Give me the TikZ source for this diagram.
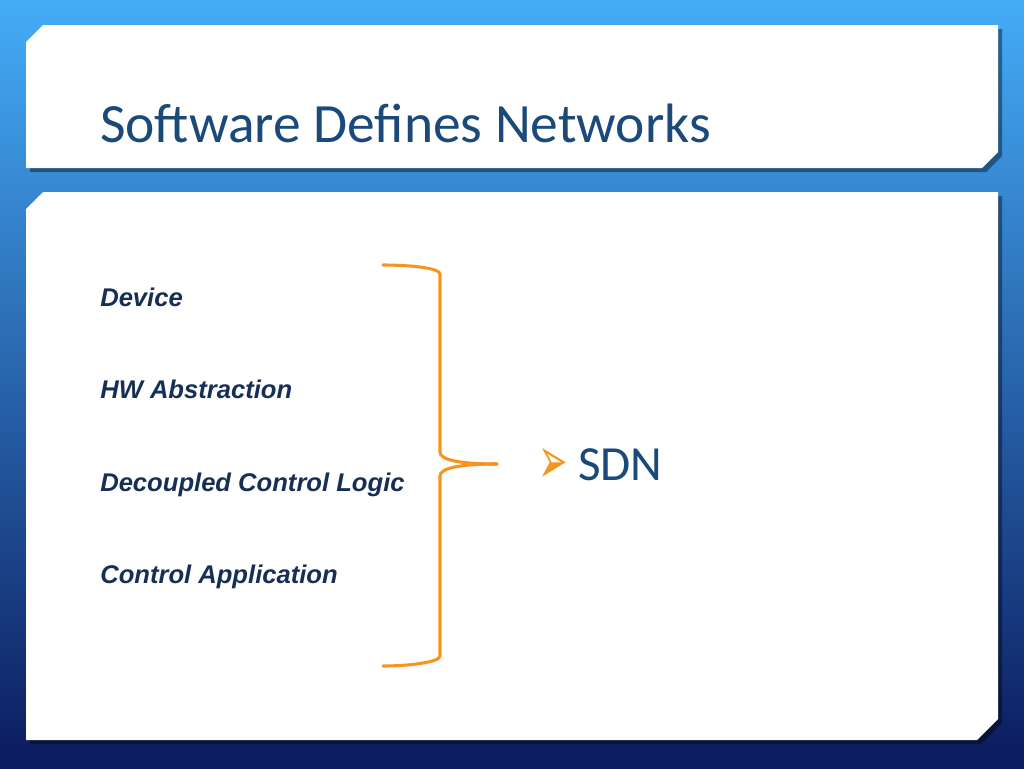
\documentclass[tikz,border=0pt]{standalone}
\usepackage{fontspec}
\setmainfont{Liberation Sans}
\newfontfamily\titlefont{Carlito}
\newfontfamily\symfont{DejaVu Sans}
\definecolor{titleblue}{HTML}{1B4A7A}
\definecolor{itemblue}{HTML}{172F55}
\definecolor{braceorange}{HTML}{F7941D}
\definecolor{bgtop}{HTML}{45ACF7}
\definecolor{bgmid}{HTML}{2A78D2}
\definecolor{bgbot}{HTML}{0B1B5E}
\tikzset{
  panel/.style={fill=white},
  shadowpanel/.style={fill=black, fill opacity=0.4},
  item/.style={anchor=base west, inner sep=0pt, text=itemblue, font=\fontsize{19.2}{22}\selectfont\bfseries\itshape},
  bracestroke/.style={draw=braceorange, line width=2.3pt, line cap=round, line join=round},
}
\begin{document}
\begin{tikzpicture}[x=0.75pt, y=-0.75pt]
  \useasboundingbox (0,0) rectangle (1024,768);
  \shade[top color=bgtop, middle color=bgmid, bottom color=bgbot] (0,0) rectangle (1024,768);
  % shadows
  \fill[shadowpanel] (30,46) -- (47,29) -- (1002,29) -- (1002,156) -- (986,172) -- (30,172) -- cycle;
  \fill[shadowpanel] (30,213) -- (47,196) -- (1002,196) -- (1002,723) -- (981,744) -- (30,744) -- cycle;
  % panels
  \fill[panel] (26,42) -- (43,25) -- (998,25) -- (998,152) -- (982,168) -- (26,168) -- cycle;
  \fill[panel] (26,209) -- (43,192) -- (998,192) -- (998,719) -- (977,740) -- (26,740) -- cycle;
  % title
  \node[anchor=base west, inner sep=0pt, text=titleblue, font=\titlefont\fontsize{41.6}{50}\selectfont] (title) at (100,142) {Software Defines Networks};
  % items
  \node[item] (dev) at (100,306) {Device};
  \node[item] (hw) at (100,398) {HW Abstraction};
  \node[item] (dcl) at (100,491) {Decoupled Control Logic};
  \node[item] (ca) at (100,583) {Control Application};
  % brace
  \coordinate (btop) at (383,265);
  \coordinate (btip) at (497,464);
  \coordinate (bbot) at (383,666);
  \draw[bracestroke] (btop) .. controls (410,265) and (440,268) .. (440,274) -- (440,452) .. controls (440,460) and (460,464) .. (btip);
  \draw[bracestroke] (btip) .. controls (460,464) and (440,468) .. (440,476) -- (440,656) .. controls (440,662) and (410,666) .. (bbot);
  % SDN
  \node[anchor=center, inner sep=0pt, text=braceorange, font=\symfont\fontsize{22}{26}\selectfont] (bullet) at (553.5,465.5) {\scalebox{1.2}[2.25]{➢}};
  \node[anchor=base west, inner sep=0pt, text=titleblue, font=\titlefont\fontsize{36.8}{44}\selectfont] (sdn) at (578,480) {SDN};
\end{tikzpicture}
\end{document}
